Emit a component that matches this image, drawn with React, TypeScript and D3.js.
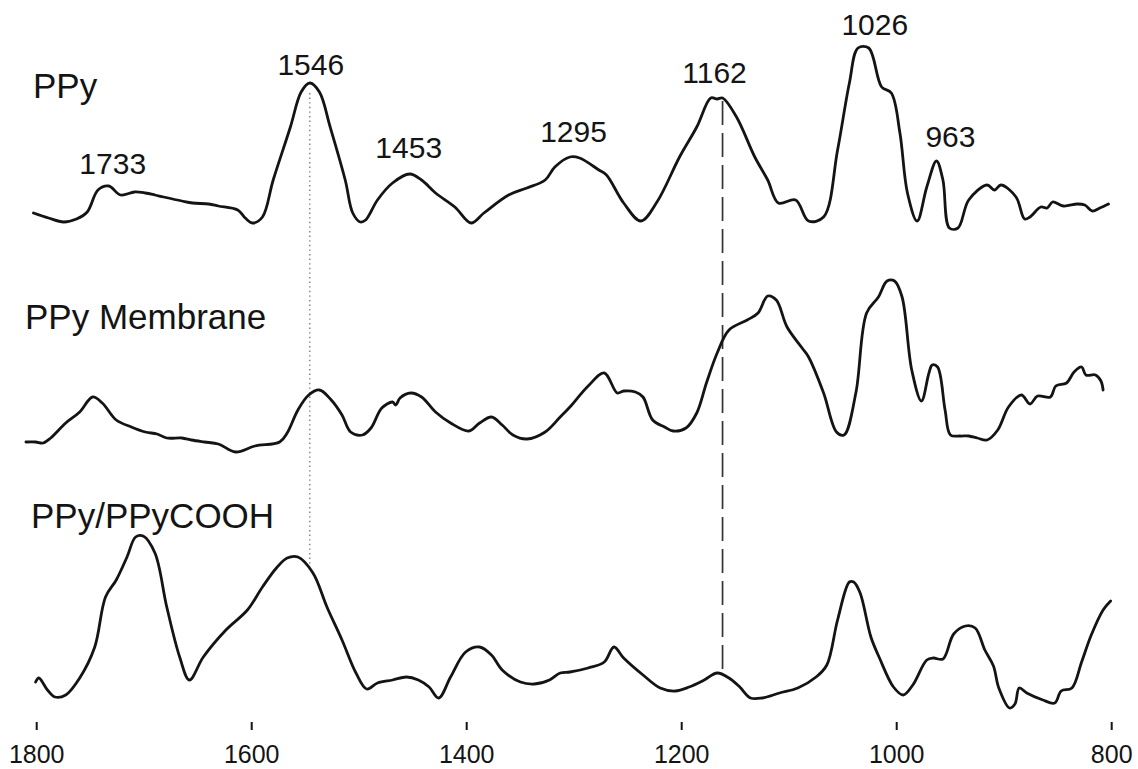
import React from "react";
import * as d3 from "d3";

type Pt = [number, number];

// Wavenumber (cm^-1) and relative intensity for each spectrum, high to low wavenumber.
const ppySpectrum: Pt[] = [
  [1803, 0.17], [1789, 0.12], [1775, 0.08], [1763, 0.11], [1753, 0.18], [1743, 0.4], [1733, 0.44],
  [1722, 0.35], [1709, 0.38], [1699, 0.37], [1690, 0.35], [1682, 0.33], [1665, 0.29], [1655, 0.27],
  [1640, 0.26], [1631, 0.24], [1613, 0.2], [1606, 0.12], [1599, 0.07], [1590, 0.13], [1580, 0.5],
  [1564, 1.03], [1554, 1.38], [1546, 1.47], [1537, 1.38], [1527, 1.03], [1513, 0.5], [1506, 0.17],
  [1499, 0.08], [1494, 0.1], [1483, 0.3], [1469, 0.47], [1453, 0.56], [1442, 0.5], [1429, 0.37],
  [1411, 0.23], [1396, 0.07], [1384, 0.17], [1361, 0.35], [1344, 0.42], [1327, 0.5], [1318, 0.63],
  [1304, 0.73], [1295, 0.72], [1277, 0.6], [1270, 0.55], [1254, 0.27], [1238, 0.09], [1223, 0.28],
  [1202, 0.73], [1186, 1.03], [1173, 1.32], [1167, 1.31], [1162, 1.32], [1149, 1.13], [1132, 0.73],
  [1120, 0.5], [1110, 0.27], [1094, 0.3], [1082, 0.09], [1068, 0.13], [1055, 0.8], [1044, 1.47],
  [1036, 1.82], [1026, 1.82], [1014, 1.43], [1005, 1.37], [997, 0.97], [990, 0.37], [981, 0.09],
  [972, 0.43], [963, 0.69], [957, 0.5], [951, 0.02], [943, 0.02], [933, 0.3], [916, 0.45],
  [909, 0.4], [903, 0.45], [889, 0.33], [881, 0.11], [876, 0.13], [866, 0.23], [860, 0.22],
  [855, 0.28], [845, 0.24], [832, 0.26], [825, 0.25], [818, 0.19], [811, 0.22], [803, 0.26],
];

const membraneSpectrum: Pt[] = [
  [1810, 0.13], [1801, 0.13], [1794, 0.12], [1787, 0.17], [1773, 0.32], [1760, 0.43], [1748, 0.58],
  [1739, 0.52], [1726, 0.35], [1712, 0.28], [1699, 0.23], [1688, 0.21], [1679, 0.17], [1665, 0.17],
  [1656, 0.15], [1644, 0.13], [1631, 0.11], [1615, 0.03], [1597, 0.09], [1574, 0.13], [1567, 0.22],
  [1557, 0.45], [1547, 0.6], [1537, 0.65], [1526, 0.55], [1516, 0.4], [1508, 0.23], [1497, 0.2],
  [1489, 0.27], [1479, 0.47], [1469, 0.53], [1466, 0.5], [1462, 0.57], [1452, 0.62], [1442, 0.58],
  [1429, 0.43], [1415, 0.32], [1398, 0.24], [1388, 0.32], [1377, 0.38], [1367, 0.3], [1357, 0.2],
  [1344, 0.16], [1327, 0.23], [1313, 0.38], [1304, 0.48], [1287, 0.69], [1272, 0.82], [1260, 0.62],
  [1254, 0.64], [1243, 0.63], [1236, 0.58], [1227, 0.35], [1216, 0.28], [1208, 0.24], [1196, 0.27],
  [1186, 0.42], [1177, 0.72], [1167, 1.02], [1156, 1.25], [1139, 1.35], [1129, 1.42], [1120, 1.59],
  [1112, 1.55], [1102, 1.28], [1088, 1.07], [1082, 0.98], [1068, 0.62], [1056, 0.23], [1049, 0.2],
  [1038, 0.62], [1028, 1.42], [1017, 1.58], [1009, 1.74], [1002, 1.74], [995, 1.58], [986, 0.85],
  [977, 0.54], [970, 0.82], [967, 0.9], [962, 0.88], [955, 0.45], [950, 0.2], [941, 0.19],
  [933, 0.19], [925, 0.17], [916, 0.15], [906, 0.25], [896, 0.48], [884, 0.6], [876, 0.51],
  [869, 0.59], [857, 0.58], [852, 0.69], [842, 0.72], [835, 0.83], [828, 0.88], [824, 0.8],
  [815, 0.8], [810, 0.74], [808, 0.65],
];

const compositeSpectrum: Pt[] = [
  [1801, 0.28], [1798, 0.32], [1790, 0.2], [1783, 0.13], [1773, 0.15], [1760, 0.32], [1746, 0.63],
  [1736, 1.13], [1726, 1.3], [1716, 1.53], [1708, 1.73], [1701, 1.74], [1690, 1.57], [1679, 1.03],
  [1667, 0.53], [1658, 0.3], [1645, 0.53], [1624, 0.8], [1604, 1.0], [1590, 1.23], [1577, 1.42],
  [1567, 1.52], [1557, 1.53], [1543, 1.37], [1530, 1.03], [1516, 0.7], [1503, 0.37], [1493, 0.21],
  [1483, 0.27], [1469, 0.3], [1456, 0.33], [1445, 0.3], [1435, 0.23], [1426, 0.12], [1415, 0.33],
  [1401, 0.58], [1388, 0.63], [1377, 0.55], [1367, 0.4], [1350, 0.28], [1337, 0.26], [1323, 0.3],
  [1313, 0.37], [1304, 0.38], [1287, 0.42], [1272, 0.48], [1263, 0.63], [1254, 0.52], [1236, 0.35],
  [1220, 0.22], [1206, 0.19], [1193, 0.23], [1179, 0.3], [1167, 0.37], [1156, 0.32], [1146, 0.23],
  [1136, 0.12], [1125, 0.12], [1109, 0.17], [1092, 0.22], [1075, 0.33], [1065, 0.45], [1055, 0.9],
  [1044, 1.28], [1040, 1.28], [1034, 1.17], [1024, 0.73], [1016, 0.52], [1003, 0.23], [994, 0.15],
  [985, 0.25], [972, 0.5], [966, 0.52], [957, 0.51], [947, 0.76], [936, 0.84], [927, 0.82],
  [918, 0.6], [910, 0.44], [905, 0.22], [895, 0.02], [890, 0.06], [886, 0.22], [879, 0.17],
  [864, 0.1], [853, 0.07], [847, 0.19], [837, 0.22], [828, 0.48], [819, 0.75], [808, 1.0], [801, 1.09],
];

const seriesNames = ["PPy", "PPy Membrane", "PPy/PPyCOOH"];
const seriesOffsets = [4.8, 2.55, 0];

const wavenumberTicks = [1800, 1600, 1400, 1200, 1000, 800];
const peakLabels = [1733, 1546, 1453, 1295, 1162, 1026, 963];
const markerWavenumbers = [1546, 1162];

// Layout (pixels)
const WIDTH = 1138;
const HEIGHT = 769;
const FONT = "'Liberation Sans', Arial, Helvetica, sans-serif";
const INK = "#141414";
const seriesLabelPos = [
  { x: 33, y: 98 },
  { x: 25, y: 329 },
  { x: 31, y: 528 },
];
const peakLabelNudge = [
  { dx: 4, dy: -12 },
  { dx: 1, dy: -8 },
  { dx: -1, dy: -16 },
  { dx: -6, dy: -16 },
  { dx: -8, dy: -15 },
  { dx: 6, dy: -13 },
  { dx: 14, dy: -14 },
];
const markerStyle = [
  { dash: "1.4,3.2", color: "#8a8a8a", width: 1.6, gapTop: 10, gapBottom: 2 },
  { dash: "24,8", color: "#333", width: 1.7, gapTop: 3, gapBottom: 6 },
];

function valueAt(data: Pt[], wn: number): number {
  for (let i = 0; i < data.length - 1; i++) {
    const [w0, v0] = data[i];
    const [w1, v1] = data[i + 1];
    if (wn <= w0 && wn >= w1) {
      const t = (w0 - wn) / (w0 - w1);
      return v0 + t * (v1 - v0);
    }
  }
  return data[data.length - 1][1];
}

export default function App() {
  const x = d3.scaleLinear().domain([1800, 800]).range([36.7, 1111.7]);
  const y = d3.scaleLinear().domain([0, 7]).range([710, 10]);

  const spectra = [ppySpectrum, membraneSpectrum, compositeSpectrum];

  const pathFor = (data: Pt[], offset: number) =>
    d3
      .line<Pt>()
      .x((d) => x(d[0]))
      .y((d) => y(d[1] + offset))
      .curve(d3.curveCatmullRom.alpha(0.5))(data) || "";

  const top = spectra[0];
  const bottom = spectra[spectra.length - 1];

  return (
    <svg
      width={WIDTH}
      height={HEIGHT}
      viewBox={`0 0 ${WIDTH} ${HEIGHT}`}
      style={{ position: "absolute", left: 0, top: 0, background: "#fff" }}
      fontFamily={FONT}
    >
      <rect x={0} y={0} width={WIDTH} height={HEIGHT} fill="#fff" />

      {/* reference lines linking band positions between spectra */}
      {markerWavenumbers.map((wn, i) => {
        const s = markerStyle[i];
        const y1 = y(valueAt(top, wn) + seriesOffsets[0]) + s.gapTop;
        const y2 = y(valueAt(bottom, wn) + seriesOffsets[2]) - s.gapBottom;
        return (
          <line
            key={`m${wn}`}
            x1={x(wn)}
            x2={x(wn)}
            y1={y1}
            y2={y2}
            stroke={s.color}
            strokeWidth={s.width}
            strokeDasharray={s.dash}
          />
        );
      })}

      {/* spectra */}
      {spectra.map((data, i) => (
        <path
          key={seriesNames[i]}
          d={pathFor(data, seriesOffsets[i])}
          fill="none"
          stroke={INK}
          strokeWidth={2.8}
          strokeLinejoin="round"
          strokeLinecap="round"
        />
      ))}

      {/* spectrum names */}
      {seriesNames.map((name, i) => (
        <text
          key={`n${name}`}
          x={seriesLabelPos[i].x}
          y={seriesLabelPos[i].y}
          fontSize={35}
          fill={INK}
        >
          {name}
        </text>
      ))}

      {/* band labels on the PPy spectrum */}
      {peakLabels.map((wn, i) => (
        <text
          key={`p${wn}`}
          x={x(wn) + peakLabelNudge[i].dx}
          y={y(valueAt(top, wn) + seriesOffsets[0]) + peakLabelNudge[i].dy}
          fontSize={30}
          textAnchor="middle"
          fill={INK}
        >
          {wn}
        </text>
      ))}

      {/* wavenumber axis */}
      <g>
        {wavenumberTicks.map((t) => (
          <g key={`t${t}`} transform={`translate(${x(t)},0)`}>
            <line y1={722} y2={730} stroke={INK} strokeWidth={2} />
            <text y={763} fontSize={25} textAnchor="middle" fill={INK}>
              {t}
            </text>
          </g>
        ))}
      </g>
    </svg>
  );
}
